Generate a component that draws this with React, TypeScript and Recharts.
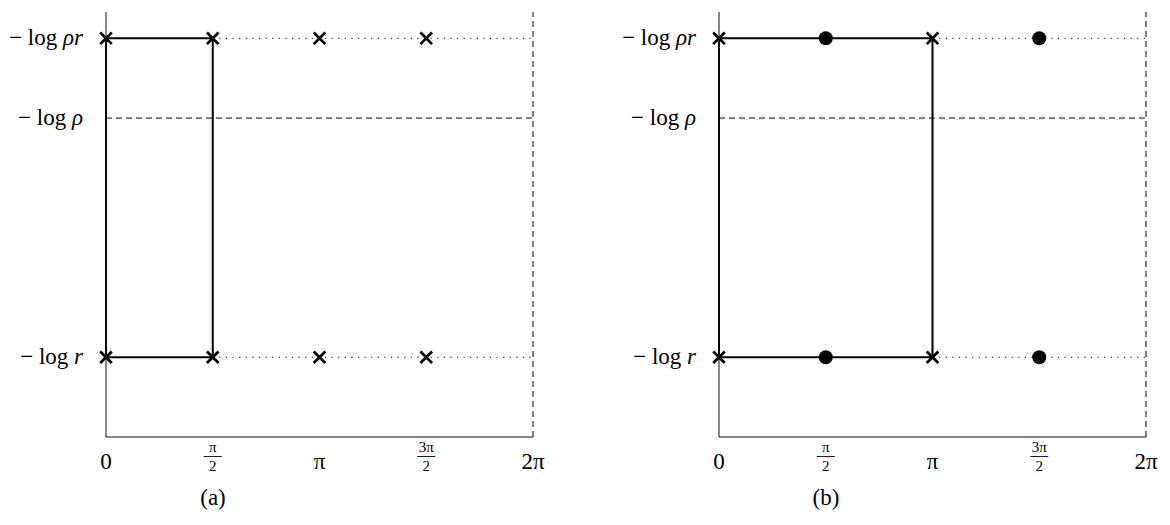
import React from "react";
import {
  ComposedChart,
  Line,
  Scatter,
  XAxis,
  YAxis,
  ReferenceLine,
} from "recharts";

// x in units of pi/2, y in arbitrary units (1 = -log r, 4 = -log rho, 5 = -log rho r)
const xTicks = [0, 1, 2, 3, 4];
const xTickLabels: { num: string; den?: string }[] = [
  { num: "0" },
  { num: "π", den: "2" },
  { num: "π" },
  { num: "3π", den: "2" },
  { num: "2π" },
];
const yTicks = [1, 4, 5];
const yTickLabels: Record<number, string> = { 1: "r", 4: "ρ", 5: "ρr" };
const yLogR = 1;
const yLogRho = 4;
const yLogRhoR = 5;
const yTop = 5.33;

// panel (a)
const rectA = [
  { x: 0, y: yLogRhoR },
  { x: 1, y: yLogRhoR },
  { x: 1, y: yLogR },
  { x: 0, y: yLogR },
  { x: 0, y: yLogRhoR },
];
const crossesA = [
  { x: 0, y: yLogRhoR },
  { x: 1, y: yLogRhoR },
  { x: 2, y: yLogRhoR },
  { x: 3, y: yLogRhoR },
  { x: 0, y: yLogR },
  { x: 1, y: yLogR },
  { x: 2, y: yLogR },
  { x: 3, y: yLogR },
];
const dotsA: { x: number; y: number }[] = [];
const dottedStartA = 1;

// panel (b)
const rectB = [
  { x: 0, y: yLogRhoR },
  { x: 2, y: yLogRhoR },
  { x: 2, y: yLogR },
  { x: 0, y: yLogR },
  { x: 0, y: yLogRhoR },
];
const crossesB = [
  { x: 0, y: yLogRhoR },
  { x: 2, y: yLogRhoR },
  { x: 0, y: yLogR },
  { x: 2, y: yLogR },
];
const dotsB = [
  { x: 1, y: yLogRhoR },
  { x: 3, y: yLogRhoR },
  { x: 1, y: yLogR },
  { x: 3, y: yLogR },
];
const dottedStartB = 2;

const FONT = "'Liberation Serif', 'DejaVu Serif', serif";

const CrossShape = (props: any) => {
  const { cx, cy } = props;
  const s = 5.8;
  return (
    <path
      d={`M${cx - s},${cy - s}L${cx + s},${cy + s}M${cx - s},${cy + s}L${cx + s},${cy - s}`}
      stroke="#000"
      strokeWidth={2.7}
      fill="none"
    />
  );
};

const DotShape = (props: any) => {
  const { cx, cy } = props;
  return <circle cx={cx} cy={cy} r={7} fill="#000" />;
};

const XTick = (props: any) => {
  const { x, y, payload } = props;
  const lab = xTickLabels[xTicks.indexOf(payload.value)];
  if (!lab) return null;
  if (!lab.den) {
    return (
      <text x={x} y={y + 24} textAnchor="middle" fontFamily={FONT} fontSize={23} fill="#000">
        {lab.num}
      </text>
    );
  }
  return (
    <g>
      <text x={x} y={y + 7} textAnchor="middle" fontFamily={FONT} fontSize={15} fill="#000">
        {lab.num}
      </text>
      <line x1={x - 9} x2={x + 9} y1={y + 11.5} y2={y + 11.5} stroke="#000" strokeWidth={0.9} />
      <text x={x} y={y + 26} textAnchor="middle" fontFamily={FONT} fontSize={15} fill="#000">
        {lab.den}
      </text>
    </g>
  );
};

const YTick = (props: any) => {
  const { x, y, payload } = props;
  return (
    <text x={x - 15} y={y + 7} textAnchor="end" fontFamily={FONT} fontSize={23} fill="#000">
      <tspan>− log </tspan>
      <tspan fontStyle="italic">{yTickLabels[payload.value]}</tspan>
    </text>
  );
};

type PanelProps = {
  width: number;
  right: number;
  rect: { x: number; y: number }[];
  crosses: { x: number; y: number }[];
  dots: { x: number; y: number }[];
  dottedStart: number;
};

function Panel({ width, right, rect, crosses, dots, dottedStart }: PanelProps) {
  const dottedTop = [
    { x: dottedStart, y: yLogRhoR },
    { x: 4, y: yLogRhoR },
  ];
  const dottedBottom = [
    { x: dottedStart, y: yLogR },
    { x: 4, y: yLogR },
  ];
  return (
    <ComposedChart
      width={width}
      height={525}
      margin={{ top: 12, right, left: 0, bottom: 58 }}
    >
      <XAxis
        type="number"
        dataKey="x"
        domain={[0, 4]}
        ticks={xTicks}
        tickLine={false}
        axisLine={{ stroke: "#111", strokeWidth: 1 }}
        tick={<XTick />}
        height={30}
        interval={0}
      />
      <YAxis
        type="number"
        dataKey="y"
        domain={[0, yTop]}
        ticks={yTicks}
        tickLine={false}
        axisLine={{ stroke: "#111", strokeWidth: 1 }}
        tick={<YTick />}
        width={106}
        interval={0}
      />
      <ReferenceLine y={yLogRho} stroke="#000" strokeWidth={1} strokeDasharray="6 4" />
      <ReferenceLine x={4} stroke="#000" strokeWidth={1} strokeDasharray="6 4" />
      <Line
        data={dottedTop}
        dataKey="y"
        type="linear"
        stroke="#000"
        strokeWidth={1}
        strokeDasharray="1.2 5.4"
        dot={false}
        isAnimationActive={false}
      />
      <Line
        data={dottedBottom}
        dataKey="y"
        type="linear"
        stroke="#000"
        strokeWidth={1}
        strokeDasharray="1.2 5.4"
        dot={false}
        isAnimationActive={false}
      />
      <Line
        data={rect}
        dataKey="y"
        type="linear"
        stroke="#000"
        strokeWidth={2}
        dot={false}
        isAnimationActive={false}
      />
      <Scatter data={crosses} dataKey="y" shape={<CrossShape />} isAnimationActive={false} />
      {dots.length > 0 && (
        <Scatter data={dots} dataKey="y" shape={<DotShape />} isAnimationActive={false} />
      )}
    </ComposedChart>
  );
}

const captionStyle: React.CSSProperties = {
  position: "absolute",
  top: 485,
  width: 60,
  textAlign: "center",
  fontFamily: FONT,
  fontSize: 23,
  color: "#000",
};

export default function App() {
  return (
    <div
      style={{
        position: "absolute",
        left: 0,
        top: 0,
        width: 1170,
        height: 525,
        background: "#fff",
        overflow: "hidden",
      }}
    >
      <div style={{ position: "absolute", left: 0, top: 0 }}>
        <Panel
          width={585}
          right={52}
          rect={rectA}
          crosses={crossesA}
          dots={dotsA}
          dottedStart={dottedStartA}
        />
      </div>
      <div style={{ position: "absolute", left: 613, top: 0 }}>
        <Panel
          width={557}
          right={24}
          rect={rectB}
          crosses={crossesB}
          dots={dotsB}
          dottedStart={dottedStartB}
        />
      </div>
      <div style={{ ...captionStyle, left: 213 - 30 }}>(a)</div>
      <div style={{ ...captionStyle, left: 826 - 30 }}>(b)</div>
    </div>
  );
}
